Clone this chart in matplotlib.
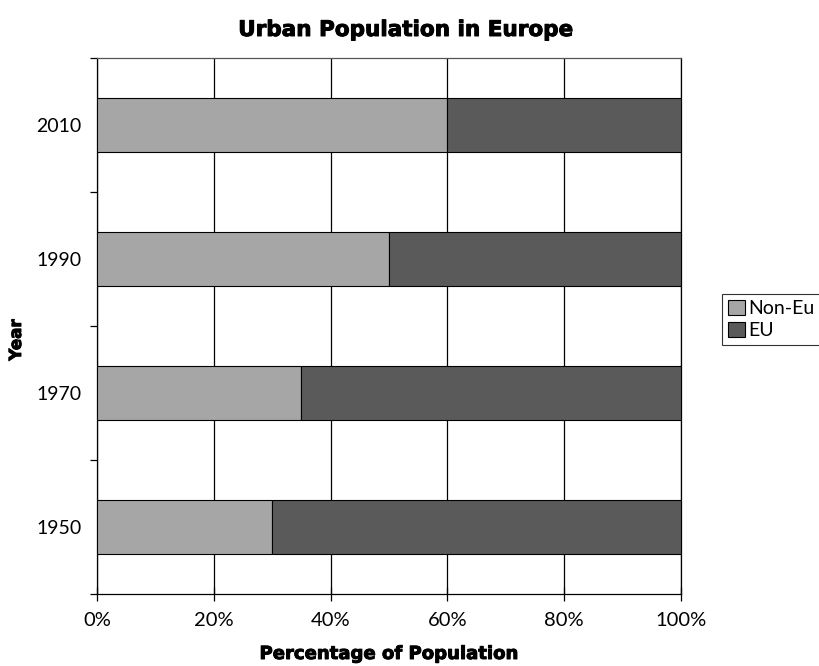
import matplotlib.pyplot as plt
import matplotlib.patheffects as pe
import numpy as np

# share of urban population, percent
years = ["1950", "1970", "1990", "2010"]
non_eu = [30, 35, 50, 60]
eu = [70, 65, 50, 40]

plt.rcParams['font.family'] = ['Lato', 'DejaVu Sans']
# heavy look for the titles: bold face plus a thin outline
bold = dict(family="DejaVu Sans", fontweight="bold",
            path_effects=[pe.withStroke(linewidth=0.7, foreground="black")])

fig = plt.figure(figsize=(8.19, 6.66), dpi=100)
ax = fig.add_axes([0.1184, 0.1081, 0.7131, 0.8048])

y = np.arange(len(years))
ax.barh(y, non_eu, height=0.4, color="#a6a6a6", edgecolor="black", linewidth=0.8, label="Non-Eu", zorder=3)
ax.barh(y, eu, left=non_eu, height=0.4, color="#5a5a5a", edgecolor="black", linewidth=0.8, label="EU", zorder=3)

ax.set_xlim(0, 100)
ax.set_ylim(-0.5, len(years) - 0.5)

ax.set_xticks(np.arange(0, 101, 20))
ax.set_xticklabels([f"{v}%" for v in range(0, 101, 20)], fontsize=14.5)
ax.xaxis.grid(True, color="black", linewidth=0.9, zorder=0)

ax.set_yticks(y)
ax.set_yticklabels(years, fontsize=14)
ax.tick_params(axis="y", length=0, pad=11)
ax.set_yticks(np.arange(-0.5, len(years), 1), minor=True)
ax.tick_params(axis="y", which="minor", length=5, width=0.9)
ax.tick_params(axis="x", direction="inout", length=10, width=0.9, pad=8)

for s in ax.spines.values():
    s.set_linewidth(0.9)
ax.spines["top"].set_color("#555555")

# titles placed in figure pixels
W, H = 819, 666
fig.text(405 / W, 1 - 36 / H, "Urban Population in Europe", fontsize=15.5,
         ha="center", va="baseline", **bold)
fig.text(388 / W, 1 - 659 / H, "Percentage of Population", fontsize=13,
         ha="center", va="baseline", **bold)
fig.text(16 / W, 1 - 340 / H, "Year", fontsize=12, rotation=90,
         ha="center", va="center", **bold)

leg = fig.legend(loc="upper left", bbox_to_anchor=(0.882, 0.559), fontsize=14,
                 frameon=True, fancybox=False, edgecolor="black",
                 handlelength=0.85, handleheight=0.85, handletextpad=0.2,
                 borderpad=0.3, labelspacing=0.25, borderaxespad=0)
leg.get_frame().set_linewidth(0.8)

fig.savefig("out.png", dpi=100)
